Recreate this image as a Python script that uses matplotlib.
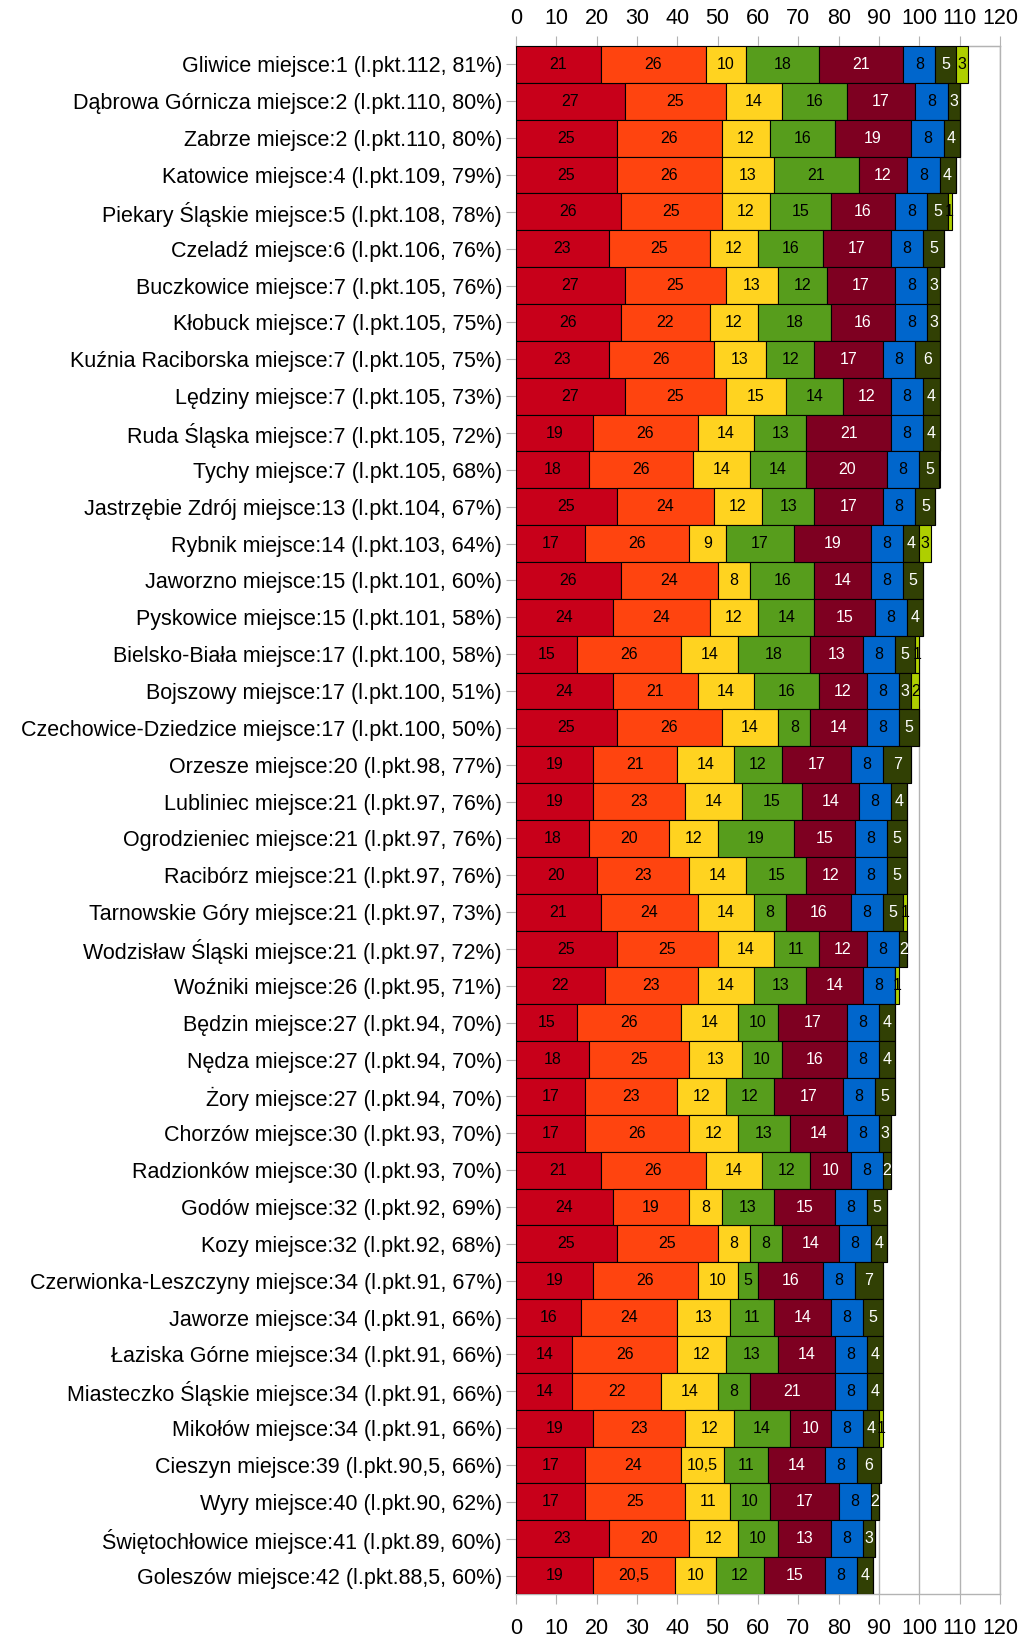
import matplotlib
matplotlib.use("Agg")
import matplotlib.pyplot as plt
import numpy as np

names = ["Gliwice", "Dąbrowa Górnicza", "Zabrze", "Katowice", "Piekary Śląskie", "Czeladź",
         "Buczkowice", "Kłobuck", "Kuźnia Raciborska", "Lędziny", "Ruda Śląska", "Tychy",
         "Jastrzębie Zdrój", "Rybnik", "Jaworzno", "Pyskowice", "Bielsko-Biała", "Bojszowy",
         "Czechowice-Dziedzice", "Orzesze", "Lubliniec", "Ogrodzieniec", "Racibórz",
         "Tarnowskie Góry", "Wodzisław Śląski", "Woźniki", "Będzin", "Nędza", "Żory",
         "Chorzów", "Radzionków", "Godów", "Kozy", "Czerwionka-Leszczyny", "Jaworze",
         "Łaziska Górne", "Miasteczko Śląskie", "Mikołów", "Cieszyn", "Wyry",
         "Świętochłowice", "Goleszów"]
places = [1, 2, 2, 4, 5, 6, 7, 7, 7, 7, 7, 7, 13, 14, 15, 15, 17, 17, 17, 20, 21, 21, 21,
          21, 21, 26, 27, 27, 27, 30, 30, 32, 32, 34, 34, 34, 34, 34, 39, 40, 41, 42]
points = ["112", "110", "110", "109", "108", "106", "105", "105", "105", "105", "105", "105",
          "104", "103", "101", "101", "100", "100", "100", "98", "97", "97", "97", "97", "97",
          "95", "94", "94", "94", "93", "93", "92", "92", "91", "91", "91", "91", "91",
          "90,5", "90", "89", "88,5"]
percents = [81, 80, 80, 79, 78, 76, 76, 75, 75, 73, 72, 68, 67, 64, 60, 58, 58, 51, 50, 77,
            76, 76, 76, 73, 72, 71, 70, 70, 70, 70, 70, 69, 68, 67, 66, 66, 66, 66, 66, 62,
            60, 60]

s_red = [21, 27, 25, 25, 26, 23, 27, 26, 23, 27, 19, 18, 25, 17, 26, 24, 15, 24, 25, 19, 19,
         18, 20, 21, 25, 22, 15, 18, 17, 17, 21, 24, 25, 19, 16, 14, 14, 19, 17, 17, 23, 19]
s_orange = [26, 25, 26, 26, 25, 25, 25, 22, 26, 25, 26, 26, 24, 26, 24, 24, 26, 21, 26, 21,
            23, 20, 23, 24, 25, 23, 26, 25, 23, 26, 26, 19, 25, 26, 24, 26, 22, 23, 24, 25,
            20, 20.5]
s_yellow = [10, 14, 12, 13, 12, 12, 13, 12, 13, 15, 14, 14, 12, 9, 8, 12, 14, 14, 14, 14, 14,
            12, 14, 14, 14, 14, 14, 13, 12, 12, 14, 8, 8, 10, 13, 12, 14, 12, 10.5, 11, 12, 10]
s_green = [18, 16, 16, 21, 15, 16, 12, 18, 12, 14, 13, 14, 13, 17, 16, 14, 18, 16, 8, 12, 15,
           19, 15, 8, 11, 13, 10, 10, 12, 13, 12, 13, 8, 5, 11, 13, 8, 14, 11, 10, 10, 12]
s_maroon = [21, 17, 19, 12, 16, 17, 17, 16, 17, 12, 21, 20, 17, 19, 14, 15, 13, 12, 14, 17,
            14, 15, 12, 16, 12, 14, 17, 16, 17, 14, 10, 15, 14, 16, 14, 14, 21, 10, 14, 17,
            13, 15]
s_blue = [8] * 42
s_olive = [5, 3, 4, 4, 5, 5, 3, 3, 6, 4, 4, 5, 5, 4, 5, 4, 5, 3, 5, 7, 4, 5, 5, 5, 2, 0, 4,
           4, 5, 3, 2, 5, 4, 7, 5, 4, 4, 4, 6, 2, 3, 4]
s_lime = [3, 0, 0, 0, 1, 0, 0, 0, 0, 0, 0, 0, 0, 3, 0, 0, 1, 2, 0, 0, 0, 0, 0, 1, 0, 1, 0,
          0, 0, 0, 0, 0, 0, 0, 0, 0, 0, 1, 0, 0, 0, 0]

x_ticks = [0, 10, 20, 30, 40, 50, 60, 70, 80, 90, 100, 110, 120]

series = [s_red, s_orange, s_yellow, s_green, s_maroon, s_blue, s_olive, s_lime]
colors = ["#c8001a", "#ff440f", "#ffd320", "#579d1c", "#7e0021", "#0066cc", "#314004", "#aecf00"]
text_colors = ["black", "black", "black", "black", "white", "black", "white", "black"]

labels = [f"{n} miejsce:{p} (l.pkt.{pt}, {pc}%)" for n, p, pt, pc in zip(names, places, points, percents)]

plt.rcParams['font.family'] = ['Liberation Sans', 'DejaVu Sans']

fig = plt.figure(figsize=(10.28, 16.36), dpi=100)
ax = fig.add_axes([516 / 1028, 1 - 1594 / 1636, (1000 - 516) / 1028, (1594 - 46) / 1636])

n = len(names)
y = np.arange(n)
left = np.zeros(n)
for vals, c, tc in zip(series, colors, text_colors):
    vals = np.array(vals, dtype=float)
    ax.barh(y, vals, left=left, height=1.0, color=c, edgecolor="black", linewidth=0.8, zorder=3)
    for yi, (l, v) in enumerate(zip(left, vals)):
        if v > 0:
            s = f"{v:g}".replace(".", ",")
            ax.text(l + v / 2, yi, s, ha="center", va="center", color=tc, fontsize=11.5, zorder=4)
    left += vals

ax.set_ylim(n - 0.5, -0.5)
ax.set_xlim(0, 120)
ax.set_xticks(x_ticks)
ax.set_yticks(y)
ax.set_yticklabels(labels, fontsize=15.5)
ax.xaxis.grid(True, color="#b3b3b3", linewidth=1.0, zorder=0)
ax.set_axisbelow(True)
ax.tick_params(axis="x", bottom=True, labelbottom=True, top=False, labeltop=False,
               length=7, color="#b3b3b3", labelsize=15.5, pad=10)
ax.tick_params(axis="y", length=7, color="#b3b3b3", pad=3)
for sp in ax.spines.values():
    sp.set_color("#b3b3b3")
    sp.set_linewidth(1.0)

sec = ax.secondary_xaxis("top")
sec.set_xticks(x_ticks)
sec.tick_params(axis="x", length=7, color="#b3b3b3", labelsize=15.5, pad=5)
sec.spines["top"].set_color("#b3b3b3")

fig.savefig("out.png", dpi=100)
